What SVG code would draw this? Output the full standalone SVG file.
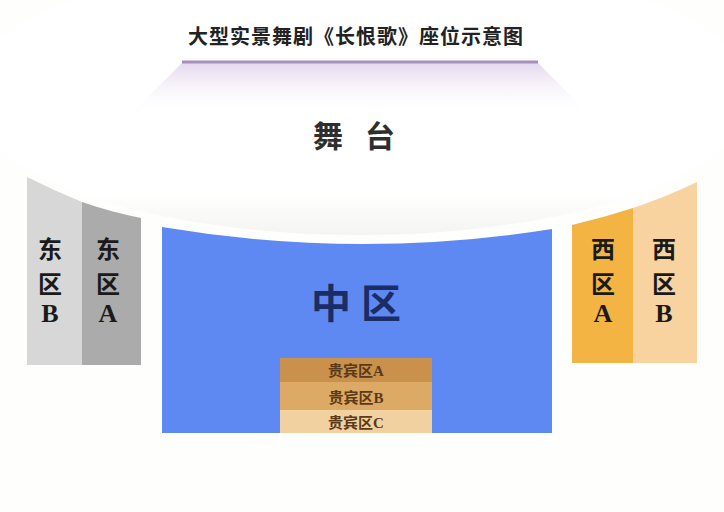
<svg xmlns="http://www.w3.org/2000/svg" width="724" height="512" viewBox="0 0 724 512">
  <defs>
    <linearGradient id="lav" x1="0" y1="0" x2="0" y2="1">
      <stop offset="0" stop-color="#e2d3ec" stop-opacity="0.9"/>
      <stop offset="1" stop-color="#ffffff" stop-opacity="0"/>
    </linearGradient>
    <linearGradient id="stageShade" x1="0" y1="0" x2="0" y2="1">
      <stop offset="0.85" stop-color="#ffffff"/>
      <stop offset="1" stop-color="#f4f4f2"/>
    </linearGradient>
    <style>
      .cj { font-family: "Noto Sans CJK SC", "Noto Sans", sans-serif; font-weight: bold; }
      .lat { font-family: "Liberation Serif", serif; font-weight: bold; }
      .col { font-size: 24px; fill: #1a1a1a; text-anchor: middle; }
      .colL { font-size: 26px; fill: #1a1a1a; text-anchor: middle; }
      .vip { font-size: 15px; fill: #5a3a1a; text-anchor: middle; }
    </style>
  </defs>

  <rect x="0" y="0" width="724" height="512" fill="#fefefd"/>

  <g id="stage">
    <ellipse cx="360" cy="95" rx="392" ry="140" fill="url(#stageShade)"/>
    <polygon points="182,63 538,63 590,115 130,115" fill="url(#lav)"/>
    <line x1="182" y1="62" x2="538" y2="62" stroke="#a58fbd" stroke-width="3"/>
    <text class="cj" x="328" y="147" font-size="30" fill="#2e2e2e" text-anchor="middle">舞</text>
    <text class="cj" x="380" y="147" font-size="30" fill="#2e2e2e" text-anchor="middle">台</text>
  </g>

  <g id="title">
    <text class="cj" x="356" y="44" font-size="20" fill="#222222" text-anchor="middle" letter-spacing="1">大型实景舞剧《长恨歌》座位示意图</text>
  </g>

  <g id="east-b">
    <path d="M27,177 Q55,191 82,202 L82,365 L27,365 Z" fill="#d7d7d7"/>
    <text class="cj col" x="50" y="258">东</text>
    <text class="cj col" x="50" y="293">区</text>
    <text class="lat colL" x="50" y="322">B</text>
  </g>

  <g id="east-a">
    <path d="M82,202 Q111,212 141,218 L141,365 L82,365 Z" fill="#ababab"/>
    <text class="cj col" x="108" y="258">东</text>
    <text class="cj col" x="108" y="293">区</text>
    <text class="lat colL" x="108" y="322">A</text>
  </g>

  <g id="west-a">
    <path d="M572,225 Q602,218 633,208 L633,363 L572,363 Z" fill="#f4b443"/>
    <text class="cj col" x="603" y="258" fill="#3a2410">西</text>
    <text class="cj col" x="603" y="293">区</text>
    <text class="lat colL" x="603" y="322">A</text>
  </g>

  <g id="west-b">
    <path d="M633,208 Q666,197 697,182 L697,363 L633,363 Z" fill="#f8d3a0"/>
    <text class="cj col" x="664" y="258">西</text>
    <text class="cj col" x="664" y="293">区</text>
    <text class="lat colL" x="664" y="322">B</text>
  </g>

  <g id="center">
    <path d="M162,227 Q357,260 552,229 L552,433 L162,433 Z" fill="#5f89f2"/>
    <text class="cj" x="331" y="318" font-size="40" fill="#1b2d66" text-anchor="middle">中</text>
    <text class="cj" x="381" y="318" font-size="40" fill="#1b2d66" text-anchor="middle">区</text>
  </g>

  <g id="vip-a">
    <rect x="280" y="358" width="152" height="24" fill="#c9914b"/>
    <text class="vip" x="356" y="376"><tspan class="cj">贵宾区</tspan><tspan class="lat">A</tspan></text>
  </g>
  <g id="vip-b">
    <rect x="280" y="382" width="152" height="28" fill="#dcaa64"/>
    <text class="vip" x="356" y="403"><tspan class="cj">贵宾区</tspan><tspan class="lat">B</tspan></text>
  </g>
  <g id="vip-c">
    <rect x="280" y="410" width="152" height="23" fill="#f2d1a0"/>
    <text class="vip" x="356" y="428"><tspan class="cj">贵宾区</tspan><tspan class="lat">C</tspan></text>
  </g>
</svg>
